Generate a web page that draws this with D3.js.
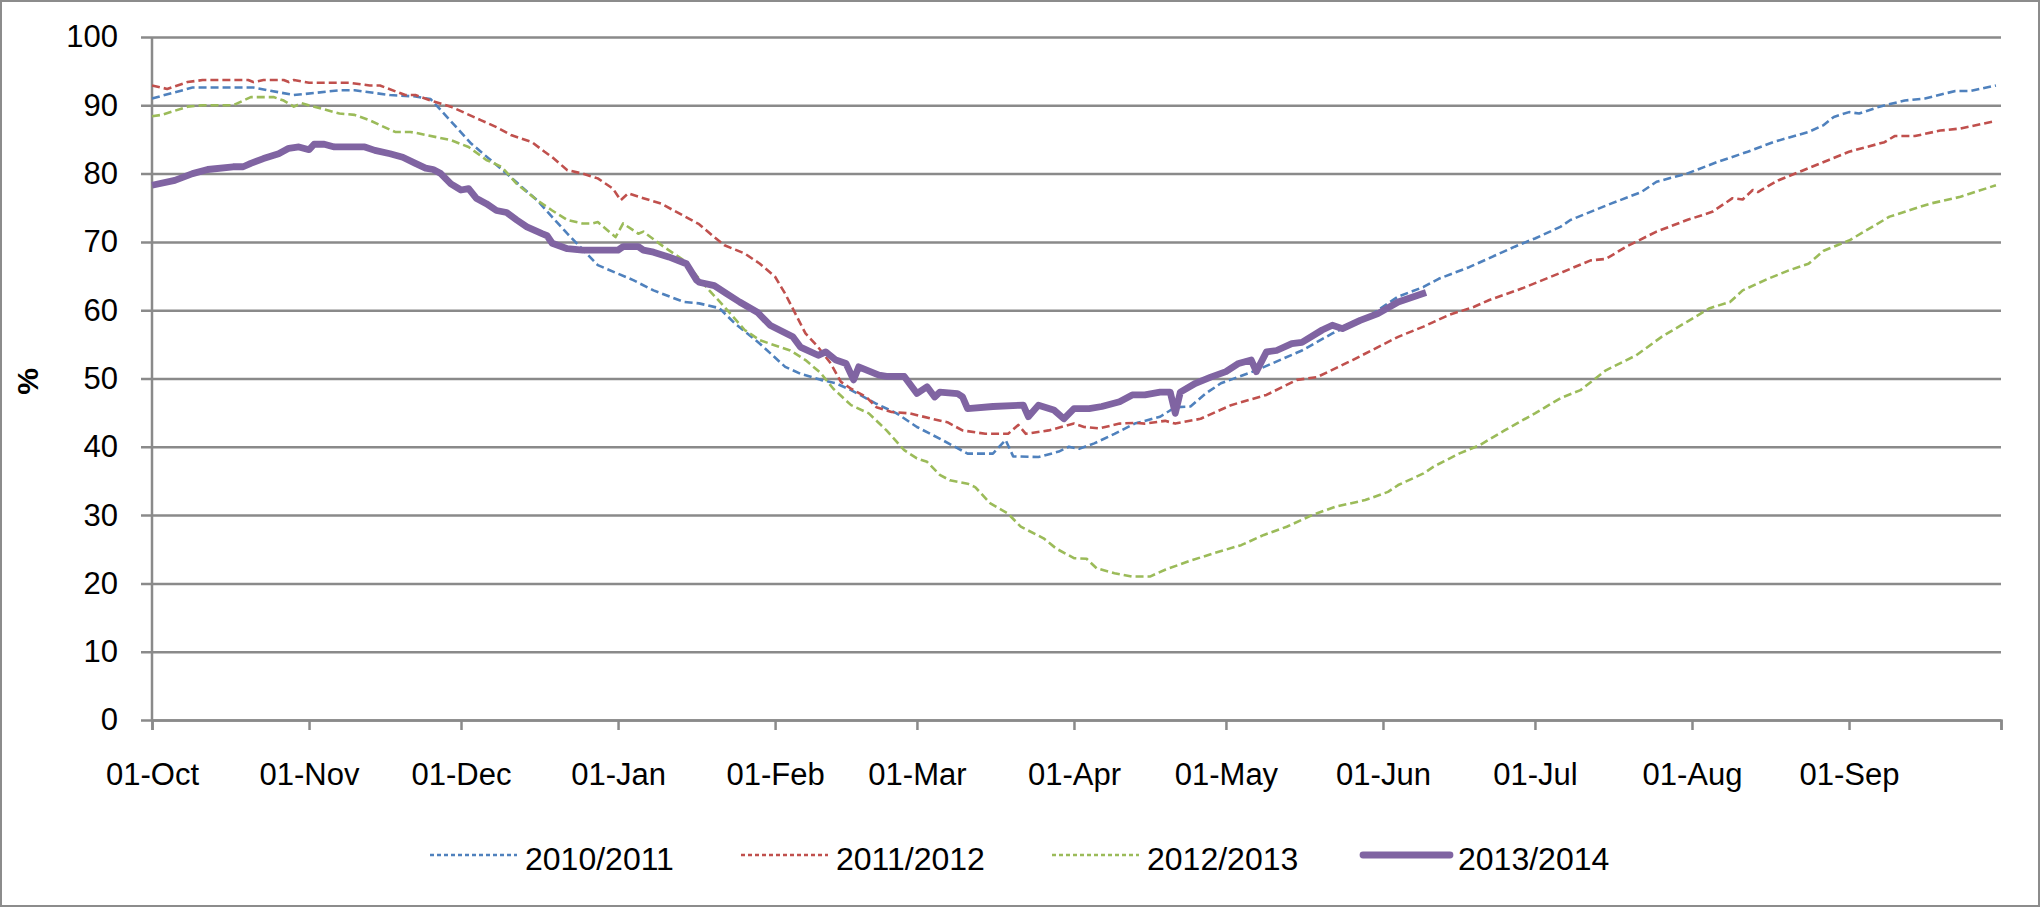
<!DOCTYPE html>
<html>
<head>
<meta charset="utf-8">
<script src="https://cdn.jsdelivr.net/npm/d3@7"></script>
<style>
  body { margin: 0; background: #fff; }
  svg { display: block; font-family: "Liberation Sans", Arial, sans-serif; }
</style>
</head>
<body>
<div id="chart"></div>
<script>
// Season values: [days since 01-Oct, %]
const season2010 = [[0,91.0],[8,92.6],[20,92.6],[28,91.5],[32,91.8],[37,92.2],[40,92.2],[44,91.8],[47,91.5],[52,91.3],[55,90.9],[57,89.3],[63,84.4],[70,80.0],[76,76.1],[82,71.2],[88,66.6],[95,64.4],[99,62.9],[105,61.2],[108,61.0],[112,60.3],[115,58.1],[120,55.1],[125,51.7],[128,50.7],[132,49.8],[135,49.3],[138,48.3],[143,46.3],[147,44.9],[151,42.9],[156,41.0],[161,39.0],[166,39.0],[168.5,41.0],[170,38.6],[175,38.5],[179,39.3],[181,40.0],[183,39.7],[186,40.5],[190,41.9],[194,43.4],[199,44.4],[202,45.8],[205,45.9],[208,47.8],[211,49.3],[218,51.2],[227,54.1],[233,56.6],[240,59.0],[246,62.0],[251,63.4],[254,64.6],[260,66.3],[269,69.3],[273,70.5],[278,72.2],[280,73.2],[288,75.6],[294,77.3],[297,78.8],[303,80.0],[309,81.7],[315,83.2],[320,84.6],[327,86.1],[330,87.1],[332,88.3],[335,89.0],[337,88.8],[341,89.8],[346,90.7],[350,91.0],[356,92.1],[359,92.1],[364,92.9]];

const season2011 = [[0,92.9],[3,92.4],[7,93.4],[10,93.7],[19,93.7],[20,93.4],[22,93.7],[26,93.7],[27,93.4],[28,93.7],[31,93.3],[39,93.3],[43,92.9],[45,92.9],[50,91.5],[52,91.5],[55,90.7],[59,89.8],[62,88.8],[65,87.8],[68,86.8],[71,85.6],[75,84.6],[77.5,83.2],[79,82.4],[82,80.5],[85,80.0],[88,79.3],[91,77.8],[92.5,76.1],[94,77.1],[97,76.4],[100.5,75.6],[103,74.6],[108,72.6],[111,70.7],[113,69.5],[117,68.3],[120,66.8],[123,64.9],[125,62.4],[127,59.5],[129,56.6],[131.5,54.6],[134,52.2],[136,49.5],[138,48.5],[141,47.3],[143,45.8],[146,45.1],[149.5,44.9],[154,44.1],[157,43.6],[160,42.4],[164.5,41.9],[169,41.9],[171,43.2],[172.5,41.9],[177,42.4],[182,43.4],[184,42.9],[187,42.7],[191,43.4],[194,43.5],[196,43.4],[200,43.8],[202,43.4],[207,44.1],[213,46.1],[220,47.6],[226,49.8],[230,50.2],[237,52.7],[246,56.1],[251,57.6],[256,59.3],[261,60.5],[264,61.5],[270.5,63.2],[278.5,65.6],[284,67.3],[287,67.5],[291,69.3],[297,71.5],[303,73.2],[308,74.4],[312,76.4],[314,76.2],[316,77.6],[317,77.3],[321,79.0],[326,80.5],[331,82.0],[335,83.2],[342,84.6],[344,85.5],[348,85.5],[353,86.3],[357,86.6],[364,87.7]];

const season2012 = [[0,88.4],[2,88.6],[7,89.8],[10,90.0],[16,90.0],[19.5,91.2],[24,91.2],[26,90.7],[28,89.8],[29.5,90.3],[33.5,89.5],[37,88.8],[40,88.6],[43,87.8],[45,87.1],[48,86.1],[51,86.1],[52.5,85.9],[59,84.9],[62.5,83.9],[66,82.0],[69,81.0],[72,78.5],[76,76.1],[79,74.6],[82,73.2],[85,72.7],[87,72.7],[88,72.9],[91.5,70.7],[93,72.7],[96,71.2],[97,71.5],[101,69.3],[105,67.3],[108,64.6],[110,62.9],[113,60.5],[117,57.1],[120,55.6],[126,54.1],[129,52.7],[132,50.8],[134.5,48.5],[138,46.1],[141.5,44.9],[145,42.4],[148.5,39.5],[151,38.3],[153,37.8],[155.5,35.9],[157.5,35.1],[161,34.6],[162.5,34.1],[165.5,31.7],[169,30.2],[171.5,28.3],[176,26.6],[178.5,25.1],[182,23.7],[184.5,23.6],[186.5,22.2],[190,21.5],[193.5,21.0],[197,21.0],[200,22.0],[204.5,23.2],[209.5,24.4],[215,25.6],[219.5,27.1],[224,28.3],[229,30.0],[233.5,31.2],[239.5,32.2],[244,33.4],[246,34.4],[251,36.1],[253,37.1],[258,39.0],[262,40.2],[267,42.4],[273,44.9],[278,47.1],[282,48.3],[287,51.2],[293,53.4],[298,56.1],[303,58.3],[307.5,60.3],[311.5,61.2],[314,62.9],[319,64.6],[323,65.8],[327,66.8],[330,68.7],[335,70.2],[343,73.7],[351,75.6],[357,76.6],[364,78.3]];

const season2013 = [[0,78.3],[4.5,79.0],[8,80.0],[11,80.6],[16,81.0],[18,81.0],[19.5,81.5],[22,82.2],[25,82.9],[27,83.7],[29,83.9],[31,83.5],[32,84.3],[34,84.3],[36,83.9],[42,83.9],[44,83.4],[47,82.9],[49.5,82.4],[52,81.5],[54,80.8],[55.5,80.6],[57,80.0],[59,78.5],[61,77.6],[62.5,77.8],[64,76.4],[66,75.6],[68,74.6],[70,74.3],[72,73.2],[74,72.2],[77,71.2],[78,70.9],[79,69.8],[82,69.0],[85,68.8],[92,68.8],[93,69.3],[96,69.3],[97,68.8],[99,68.5],[102,67.8],[105.5,66.8],[107.5,64.4],[108,64.1],[111,63.6],[113.5,62.4],[116,61.2],[119.5,59.7],[122,57.8],[126.5,56.1],[128,54.6],[131.5,53.4],[133,53.9],[135,52.7],[137,52.2],[138.5,49.8],[139.5,51.7],[143.5,50.5],[145,50.3],[148.5,50.3],[151,47.8],[153,48.8],[154.5,47.3],[155.5,48.0],[159,47.8],[160,47.3],[161,45.6],[166,45.9],[172,46.1],[173,44.4],[175,46.1],[178,45.4],[180,44.1],[182,45.6],[185,45.6],[187.5,45.9],[191,46.6],[193.5,47.6],[196,47.6],[199,48.0],[201,48.0],[202,44.9],[203,48.0],[206,49.3],[209,50.2],[212,51.0],[214.5,52.2],[217,52.7],[218,51.0],[220,53.9],[222,54.1],[225,55.1],[227,55.3],[231,57.1],[233,57.8],[235,57.3],[238.5,58.5],[242,59.5],[246,61.2],[251.5,62.6]];

const seriesNames = ["2010/2011", "2011/2012", "2012/2013", "2013/2014"];
const seriesColors = ["#4f81bd", "#c0504d", "#9bbb59", "#8064a2"];
const yTicks = [0, 10, 20, 30, 40, 50, 60, 70, 80, 90, 100];
const monthLabels = ["01-Oct", "01-Nov", "01-Dec", "01-Jan", "01-Feb", "01-Mar", "01-Apr", "01-May", "01-Jun", "01-Jul", "01-Aug", "01-Sep", ""];

const allSeries = [season2010, season2011, season2012, season2013];

const width = 2040;
const height = 907;
const margin = { top: 37, right: 39, bottom: 187, left: 152 };
const gridColor = "#8a8a8a";

const seasonStart = new Date(2013, 9, 1);
const seasonEnd = new Date(2014, 9, 1);

const x = d3.scaleTime()
  .domain([seasonStart, seasonEnd])
  .range([margin.left, width - margin.right]);
const y = d3.scaleLinear()
  .domain([0, 100])
  .range([height - margin.bottom, margin.top]);

const svg = d3.select("#chart")
  .append("svg")
  .attr("width", width)
  .attr("height", height);

// outer frame
svg.append("rect")
  .attr("x", 1).attr("y", 1)
  .attr("width", width - 2).attr("height", height - 2)
  .attr("fill", "#fff")
  .attr("stroke", "#8c8c8c")
  .attr("stroke-width", 2);

// horizontal gridlines + y labels
const plotW = width - margin.right - margin.left;
const yAxis = svg.append("g")
  .attr("transform", `translate(${width - margin.right},0)`)
  .call(d3.axisLeft(y).tickValues(yTicks).tickSize(plotW + 11).tickPadding(23).tickFormat(d3.format("d")));
yAxis.select(".domain").remove();
yAxis.selectAll(".tick line").attr("stroke", gridColor).attr("stroke-width", 2.5);
yAxis.selectAll(".tick text").attr("fill", "#000").style("font-size", "31px");

// vertical axis line
svg.append("line")
  .attr("x1", margin.left).attr("x2", margin.left)
  .attr("y1", y(100)).attr("y2", y(0))
  .attr("stroke", gridColor).attr("stroke-width", 2.5);

// x axis
const months = d3.timeMonth.range(seasonStart, d3.timeDay.offset(seasonEnd, 1));
const xAxis = svg.append("g")
  .attr("transform", `translate(0,${y(0)})`)
  .call(d3.axisBottom(x).tickValues(months).tickSize(10).tickPadding(33)
    .tickFormat((d, i) => monthLabels[i]));
xAxis.select(".domain").attr("stroke", gridColor).attr("stroke-width", 2.5);
xAxis.selectAll(".tick line").attr("stroke", gridColor).attr("stroke-width", 2.5);
xAxis.selectAll(".tick text").attr("fill", "#000").style("font-size", "31px");

// y title
svg.append("text")
  .attr("transform", `translate(38,${(y(0) + y(100)) / 2 + 3}) rotate(-90)`)
  .attr("text-anchor", "middle")
  .style("font-size", "30px")
  .style("font-weight", "bold")
  .text("%");

const line = d3.line()
  .x(d => x(seasonStart.getTime() + d[0] * 864e5))
  .y(d => y(d[1]));

const styles = [
  { w: 2.6, dash: "8,4" },
  { w: 2.6, dash: "8,4" },
  { w: 2.6, dash: "8,4" },
  { w: 6.8, dash: null }
];

allSeries.forEach((s, i) => {
  svg.append("path")
    .datum(s)
    .attr("fill", "none")
    .attr("stroke", seriesColors[i])
    .attr("stroke-width", styles[i].w)
    .attr("stroke-dasharray", styles[i].dash)
    .attr("stroke-linejoin", "round")
    .attr("d", line);
});

// legend
const legend = svg.append("g").attr("transform", "translate(430,855)");
seriesNames.forEach((name, i) => {
  const g = legend.append("g").attr("transform", `translate(${i * 311},0)`);
  g.append("line")
    .attr("x1", 0).attr("x2", 87)
    .attr("stroke", seriesColors[i])
    .attr("stroke-width", styles[i].w)
    .attr("stroke-dasharray", i === 3 ? null : "4,3")
    .attr("stroke-linecap", i === 3 ? "round" : "butt");
  g.append("text")
    .attr("x", 95).attr("y", 15)
    .style("font-size", "32px")
    .text(name);
});
</script>
</body>
</html>
